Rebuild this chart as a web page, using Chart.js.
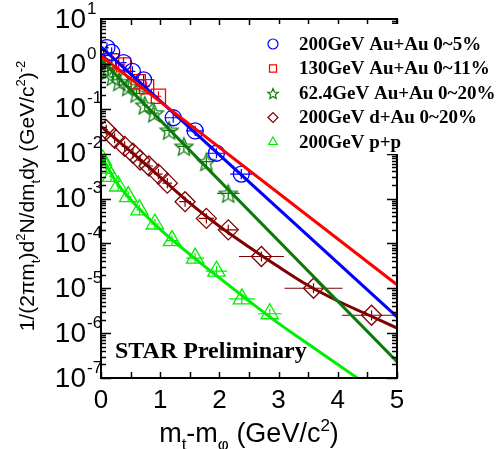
<!DOCTYPE html>
<html>
<head>
<meta charset="utf-8">
<script src="https://cdn.jsdelivr.net/npm/chart.js@4.4.0/dist/chart.umd.min.js"></script>
<style>
  html, body { margin: 0; padding: 0; background: #fff; }
  canvas { display: block; }
</style>
</head>
<body>
<canvas id="spectra" width="498" height="449"></canvas>
<script>
// ---- data (x = mt - m0 in GeV/c^2) ----
const auau200X = [0.10, 0.18, 0.38, 0.53, 0.72, 1.22, 1.59, 1.95, 2.37];
const auau200Y = [2.3, 1.8, 1.07, 0.68, 0.44, 0.063, 0.032, 0.0102, 0.0035];
const auau200XErr = [0.03, 0.03, 0.05, 0.05, 0.05, 0.14, 0.15, 0.16, 0.19];

const auau130X = [0.18, 0.38, 0.63, 0.77, 0.97];
const auau130Y = [1.17, 0.95, 0.40, 0.31, 0.19];
const auau130XErr = [0.03, 0.03, 0.05, 0.05, 0.05];

const auau62X = [0.03, 0.12, 0.20, 0.31, 0.46, 0.60, 0.74, 0.90, 1.15, 1.40, 1.78, 2.15];
const auau62Y = [1.0, 0.72, 0.52, 0.40, 0.31, 0.22, 0.12, 0.08, 0.033, 0.0145, 0.0066, 0.0013];
const auau62XErr = [0.02, 0.02, 0.03, 0.03, 0.05, 0.05, 0.05, 0.08, 0.1, 0.1, 0.12, 0.19];

const dau200X = [0.09, 0.23, 0.40, 0.54, 0.66, 0.81, 0.97, 1.12, 1.42, 1.78, 2.15, 2.71, 3.59, 4.57];
const dau200Y = [0.034, 0.022, 0.0145, 0.0102, 0.0072, 0.0053, 0.0035, 0.0022, 0.00085, 0.00036, 0.0002, 0.000051, 0.00001, 0.0000025];
const dau200XErr = [0.03, 0.03, 0.05, 0.05, 0.05, 0.07, 0.07, 0.08, 0.1, 0.13, 0.15, 0.38, 0.49, 0.5];

const pp200X = [0.03, 0.09, 0.17, 0.29, 0.46, 0.65, 0.91, 1.20, 1.59, 1.95, 2.38, 2.85];
const pp200Y = [0.0072, 0.0047, 0.0031, 0.0019, 0.0011, 0.00056, 0.00027, 0.000115, 0.000047, 0.000024, 0.0000058, 0.0000027];
const pp200XErr = [0.02, 0.02, 0.03, 0.03, 0.05, 0.05, 0.07, 0.1, 0.15, 0.18, 0.22, 0.2];

// fit curves
const fitAuau200X = [0, 5];
const fitAuau200Y = [2.38, 0.0000023];
const fitAuau130X = [0, 5];
const fitAuau130Y = [1.5, 0.000012];
const fitAuau62X = [0, 5];
const fitAuau62Y = [1.23, 0.00000023];
const fitDauX = [0, 0.5, 1, 1.5, 2, 2.5, 3, 3.5, 4, 4.5, 5];
const fitDauY = [0.040, 0.0112, 0.0030, 0.00079, 0.00024, 0.000083, 0.000030, 0.0000115, 0.0000052, 0.0000026, 0.0000013];
const fitPpX = [0, 0.25, 0.5, 1, 1.5, 2, 2.5, 3, 3.5, 4, 4.5];
const fitPpY = [0.0093, 0.0024, 0.00095, 0.000205, 0.000057, 0.000017, 0.0000052, 0.00000165, 0.00000057, 0.0000002, 0.00000007];

const legendLabels = ['200GeV Au+Au 0~5%', '130GeV Au+Au 0~11%', '62.4GeV Au+Au 0~20%', '200GeV d+Au 0~20%', '200GeV p+p'];
const xTickLabels = [0, 1, 2, 3, 4, 5];
const yTickExps = [1, 0, -1, -2, -3, -4, -5, -6, -7];

const BLUE = '#0000ff', RED = '#ff0000', DKGREEN = '#0b7a0b', BROWN = '#800000', LTGREEN = '#00ee00';
const SANS = '"Liberation Sans", Arial, sans-serif';
const SERIF = '"Liberation Serif", "Times New Roman", serif';

function pts(xs, ys) { return xs.map((x, i) => ({ x: x, y: ys[i] })); }

function starCanvas(color, r, lw) {
    const s = Math.ceil(2 * r + lw * 2 + 2);
    const cv = document.createElement('canvas');
    cv.width = cv.height = s;
    const g = cv.getContext('2d');
    g.strokeStyle = color;
    g.lineWidth = lw;
    g.beginPath();
    for (let i = 0; i < 10; i++) {
        const rr = i % 2 ? r * 0.45 : r;
        const a = -Math.PI / 2 + i * Math.PI / 5;
        const px = s / 2 + rr * Math.cos(a), py = s / 2 + 1 + rr * Math.sin(a);
        if (i) g.lineTo(px, py); else g.moveTo(px, py);
    }
    g.closePath();
    g.stroke();
    return cv;
}
const bigStar = starCanvas(DKGREEN, 9.5, 1.3);
const smallStar = starCanvas(DKGREEN, 5.5, 1.2);

function markers(xs, ys, xerr, color, style, radius, legendStyle) {
    return {
        type: 'scatter', data: pts(xs, ys), xErr: xerr, order: 2,
        pointStyle: style, pointRadius: radius, pointBorderColor: color,
        pointBackgroundColor: 'rgba(0,0,0,0)', pointBorderWidth: 1.3,
        legendStyle: legendStyle
    };
}
function fitLine(xs, ys, color, curved) {
    return {
        type: 'scatter', data: pts(xs, ys), showLine: true, order: 0,
        borderColor: color, borderWidth: 3, pointRadius: 0,
        cubicInterpolationMode: curved ? 'monotone' : 'default'
    };
}

const markerSets = [
    markers(auau200X, auau200Y, auau200XErr, BLUE, 'circle', 8, 'circle'),
    markers(auau130X, auau130Y, auau130XErr, RED, 'rect', 10, 'rect'),
    markers(auau62X, auau62Y, auau62XErr, DKGREEN, bigStar, 9, smallStar),
    markers(dau200X, dau200Y, dau200XErr, BROWN, 'rectRot', 10, 'rectRot'),
    markers(pp200X, pp200Y, pp200XErr, LTGREEN, 'triangle', 10, 'triangle')
];
const legendColors = [BLUE, RED, DKGREEN, BROWN, LTGREEN];

const datasets = markerSets.concat([
    fitLine(fitAuau130X, fitAuau130Y, RED, false),
    fitLine(fitAuau200X, fitAuau200Y, BLUE, false),
    fitLine(fitAuau62X, fitAuau62Y, DKGREEN, false),
    fitLine(fitDauX, fitDauY, BROWN, true),
    fitLine(fitPpX, fitPpY, LTGREEN, true)
]);

// draw a run of text pieces with sub/superscripts, returns width
function richText(ctx, pieces, x, y, size, measureOnly) {
    let cx = x;
    pieces.forEach(([txt, kind]) => {
        const fs = kind === 'n' ? size : Math.round(size * 0.62);
        ctx.font = fs + 'px ' + SANS;
        const dy = kind === 'sup' ? -size * 0.42 : kind === 'sub' ? size * 0.3 : 0;
        if (!measureOnly) ctx.fillText(txt, cx, y + dy);
        cx += ctx.measureText(txt).width;
    });
    return cx - x;
}

const decorations = {
    id: 'decorations',
    beforeDatasetsDraw(chart) {
        const ctx = chart.ctx, xs = chart.scales.x, ys = chart.scales.y, a = chart.chartArea;
        ctx.save();
        ctx.beginPath();
        ctx.rect(a.left, a.top, a.right - a.left, a.bottom - a.top);
        ctx.clip();
        ctx.lineWidth = 1.2;
        markerSets.forEach(ds => {
            ctx.strokeStyle = ds.pointBorderColor;
            ds.data.forEach((p, i) => {
                const py = ys.getPixelForValue(p.y), px = xs.getPixelForValue(p.x);
                const e = ds.xErr[i];
                ctx.beginPath();
                ctx.moveTo(xs.getPixelForValue(p.x - e), py);
                ctx.lineTo(xs.getPixelForValue(p.x + e), py);
                ctx.moveTo(px, ys.getPixelForValue(p.y * 1.3));
                ctx.lineTo(px, ys.getPixelForValue(p.y / 1.3));
                ctx.stroke();
            });
        });
        ctx.restore();
    },
    afterDraw(chart) {
        const ctx = chart.ctx, xs = chart.scales.x, ys = chart.scales.y, a = chart.chartArea;
        ctx.save();
        ctx.strokeStyle = '#000';
        ctx.lineWidth = 1.5;
        ctx.beginPath();
        for (let v = 0; v <= 5.001; v += 0.5) {
            const px = Math.round(xs.getPixelForValue(v)) + 0.5;
            ctx.moveTo(px, a.bottom); ctx.lineTo(px, a.bottom - 6);
            ctx.moveTo(px, a.top); ctx.lineTo(px, a.top + 6);
        }
        for (let e = -7; e <= 0; e++) {
            for (let m = 1; m <= 9; m++) {
                const py = Math.round(ys.getPixelForValue(m * Math.pow(10, e))) + 0.5;
                const len = m === 1 ? 10 : 5;
                ctx.moveTo(a.left, py); ctx.lineTo(a.left + len, py);
                ctx.moveTo(a.right, py); ctx.lineTo(a.right - len, py);
            }
        }
        ctx.stroke();
        ctx.lineWidth = 2;
        ctx.strokeRect(a.left, a.top, a.right - a.left, a.bottom - a.top);

        ctx.fillStyle = '#000';
        // x tick labels
        ctx.font = '26px ' + SANS;
        ctx.textAlign = 'center';
        ctx.textBaseline = 'middle';
        xTickLabels.forEach(v => ctx.fillText(String(v), xs.getPixelForValue(v), a.bottom + 23));
        // y tick labels 10^n
        yTickExps.forEach(n => {
            const py = ys.getPixelForValue(Math.pow(10, n));
            ctx.font = '28px ' + SANS;
            ctx.textAlign = 'right';
            ctx.fillText('10', a.left - 15, py + 1);
            ctx.font = '17px ' + SANS;
            ctx.textAlign = 'left';
            ctx.fillText(String(n), a.left - 14, py - 10);
        });

        // axis titles
        ctx.textAlign = 'left';
        ctx.textBaseline = 'alphabetic';
        const xTitle = [['m', 'n'], ['t', 'sub'], ['-m', 'n'], ['\u03c6', 'sub'], [' (GeV/c', 'n'], ['2', 'sup'], [')', 'n']];
        const xw = richText(ctx, xTitle, 0, 0, 27, true);
        richText(ctx, xTitle, (a.left + a.right) / 2 - xw / 2, 442, 27, false);

        const yTitle = [['1/(2\u03c0m', 'n'], ['t', 'sub'], [')d', 'n'], ['2', 'sup'], ['N/dm', 'n'], ['t', 'sub'],
            ['dy (GeV/c', 'n'], ['2', 'sup'], [')', 'n'], ['-2', 'sup']];
        const yw = richText(ctx, yTitle, 0, 0, 21, true);
        ctx.save();
        ctx.translate(34, 196);
        ctx.rotate(-Math.PI / 2);
        richText(ctx, yTitle, -yw / 2, 0, 21, false);
        ctx.restore();

        // legend box hides the frame behind it
        ctx.fillStyle = '#fff';
        ctx.fillRect(256, 24, 498 - 256, 130);
        ctx.font = 'bold 19px ' + SERIF;
        ctx.textBaseline = 'middle';
        legendLabels.forEach((lab, i) => {
            const ly = 44 + i * 24.5;
            ctx.strokeStyle = legendColors[i];
            ctx.fillStyle = 'rgba(0,0,0,0)';
            ctx.lineWidth = 1.2;
            Chart.helpers.drawPoint(ctx, { pointStyle: markerSets[i].legendStyle, radius: 5, borderWidth: 1.2, rotation: 0 }, 273, ly);
            ctx.fillStyle = '#000';
            ctx.fillText(lab, 299, ly + 1);
        });

        ctx.font = 'bold 24px ' + SERIF;
        ctx.textBaseline = 'alphabetic';
        ctx.fillText('STAR Preliminary', 115, 358);
        ctx.restore();
    }
};

new Chart(document.getElementById('spectra'), {
    type: 'scatter',
    data: { datasets: datasets },
    options: {
        responsive: false,
        animation: false,
        layout: { padding: { left: 101, right: 101, top: 19, bottom: 71 } },
        plugins: { legend: { display: false }, tooltip: { enabled: false } },
        scales: {
            x: { type: 'linear', min: 0, max: 5, display: false },
            y: { type: 'logarithmic', min: 1e-7, max: 10, display: false }
        }
    },
    plugins: [decorations]
});
</script>
</body>
</html>
